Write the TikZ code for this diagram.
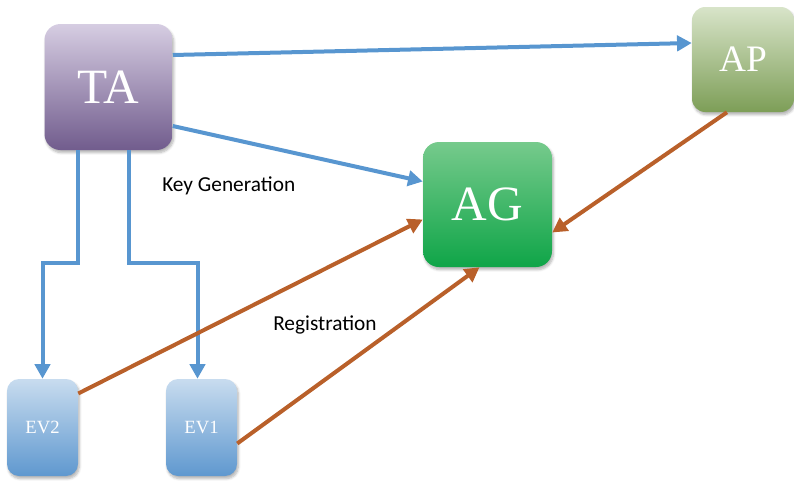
\documentclass[tikz,border=0pt]{standalone}
\usepackage{fontspec}
\setmainfont{Liberation Serif}
\newfontfamily\labelfont{Carlito}
\usetikzlibrary{arrows.meta,calc,shadows.blur}

\definecolor{taTop}{HTML}{D6CDE2}
\definecolor{taBot}{HTML}{715C8D}
\definecolor{agTop}{HTML}{76CA8C}
\definecolor{agBot}{HTML}{0FA548}
\definecolor{apTop}{HTML}{D8E4C9}
\definecolor{apBot}{HTML}{7D9E57}
\definecolor{evTop}{HTML}{C8DCEF}
\definecolor{evBot}{HTML}{5F98CF}
\definecolor{keyBlue}{HTML}{5896D0}
\definecolor{regBrown}{HTML}{B9602A}

\tikzset{
  box/.style={rounded corners=12pt, inner sep=0pt, text=white,
    blur shadow={shadow blur steps=6, shadow xshift=1pt, shadow yshift=-2pt, shadow opacity=30}},
  bigbox/.style={box, font=\fontsize{37}{40}\selectfont},
  evbox/.style={box, rounded corners=9pt, minimum width=53.25pt, minimum height=72.75pt,
    top color=evTop, bottom color=evBot, font=\fontsize{14}{16}\selectfont},
  keyline/.style={draw=keyBlue, line width=3pt, -{Triangle[length=11pt,width=11.5pt]}},
  regline/.style={draw=regBrown, line width=3pt, -{Triangle[length=11pt,width=11.5pt]}},
  caption/.style={font=\labelfont\fontsize{16}{19}\selectfont, anchor=west, inner sep=0pt}
}

\begin{document}
\begin{tikzpicture}[x=0.75pt, y=-0.75pt]
  \useasboundingbox (0,0) rectangle (794,482);

  % entities
  \node[bigbox, minimum width=96pt, minimum height=94.5pt, top color=taTop, bottom color=taBot]
    (TA) at (108.5,87) {TA};
  \node[bigbox, minimum width=96.75pt, minimum height=93.75pt, top color=agTop, bottom color=agBot]
    (AG) at (487.5,204.5) {AG};
  \node[box, rounded corners=10pt, minimum width=76.5pt, minimum height=78.75pt,
    top color=apTop, bottom color=apBot, font=\fontsize{28}{30}\selectfont]
    (AP) at (743,59.5) {AP};
  \node[evbox] (EV2) at (42.5,427.5) {EV2};
  \node[evbox] (EV1) at (201.5,427.5) {EV1};

  % key generation links
  \draw[keyline] ($(TA.east)+(0,-32)$) -- ($(AP.west)+(0,-16.5)$);
  \draw[keyline] ($(TA.east)+(0,39)$) -- ($(AG.west)+(0,-23)$);
  \draw[keyline] ($(TA.south)+(-31,0)$) -- ++(0,113) -| (EV2.north);
  \draw[keyline] ($(TA.south)+(20,0)$) -- ++(0,113) -| ($(EV1.north)+(-4,0)$);

  % registration links
  \draw[regline] ($(EV2.east)+(0,-34)$) -- ($(AG.west)+(0,15)$);
  \draw[regline] ($(EV1.east)+(0,16)$) -- ($(AG.south)+(-8,0)$);
  \draw[regline] ($(AP.south)+(-16,0)$) -- ($(AG.east)+(0,28)$);

  % captions
  \node[caption] (kg) at (162,186) {Key Generation};
  \node[caption] (rg) at (273,325) {Registration};
\end{tikzpicture}
\end{document}
